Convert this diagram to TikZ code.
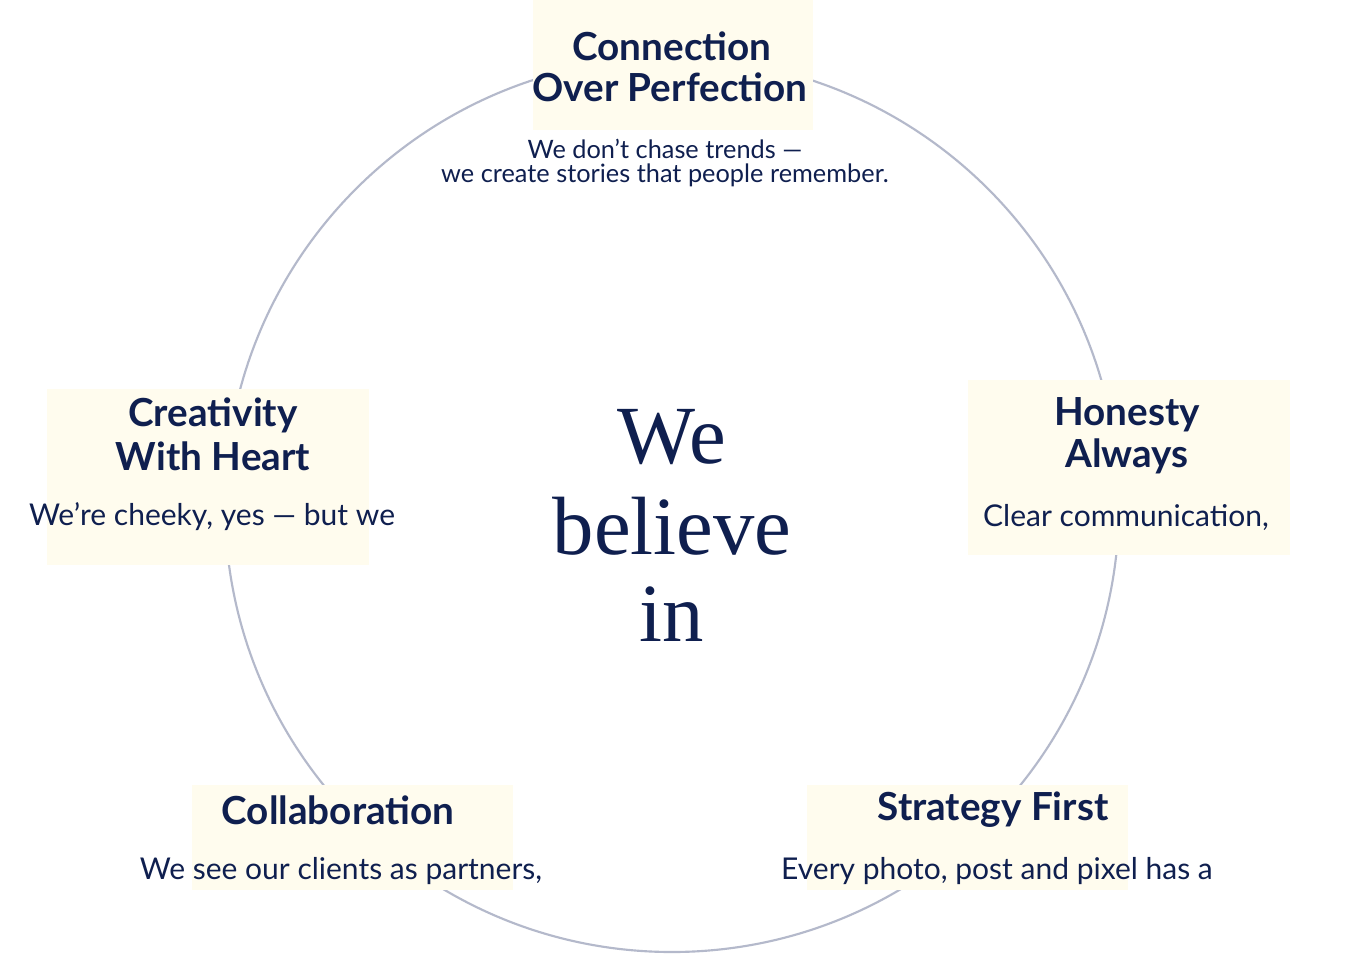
\documentclass[tikz,border=0pt]{standalone}
\usepackage{fontspec}
\setmainfont{Lato}
\newfontfamily\serifbig{Liberation Serif}
\definecolor{navy}{HTML}{0F1F4F}
\definecolor{cream}{HTML}{FFFCEE}
\definecolor{ring}{HTML}{B4B9CB}
\tikzset{
 box/.style={fill=cream,draw=none},
 ttl/.style={text=navy,font=\fontsize{29}{32}\selectfont\bfseries,inner sep=0pt},
 bdy/.style={text=navy,font=\fontsize{22.5}{25}\selectfont,inner sep=0pt},
 bdys/.style={text=navy,font=\fontsize{19}{22}\selectfont,inner sep=0pt},
 big/.style={text=navy,font=\serifbig\fontsize{62}{62}\selectfont,inner sep=0pt}
}
\begin{document}
\begin{tikzpicture}[x=0.75pt,y=-0.75pt]
\useasboundingbox[fill=white] (0,0) rectangle (1345,954);
\draw[ring,line width=1.6pt] (672,505) circle[radius=447];
\fill[box] (533,0) rectangle (813,130);
\fill[box] (47,389) rectangle (369,565);
\fill[box] (968,380) rectangle (1290,555);
\fill[box] (192,785) rectangle (513,890);
\fill[box] (807,785) rectangle (1128,890);
\node[ttl] (t1a) at (672,46) {Connection};
\node[ttl] (t1b) at (670,87) {Over Perfection};
\node[bdys] (b1a) at (665,149) {We don’t chase trends —};
\node[bdys] (b1b) at (665,175) {we create stories that people remember.};
\node[ttl] (t2a) at (213,415) {Creativity};
\node[ttl] (t2b) at (213,456) {With Heart};
\node[bdy] (b2) at (212,517) {We’re cheeky, yes — but we};
\node[ttl] (t3a) at (1127,415) {Honesty};
\node[ttl] (t3b) at (1127,456) {Always};
\node[bdy] (b3) at (1126,517) {Clear communication,};
\node[ttl] (t4) at (338,810) {Collaboration};
\node[bdy] (b4) at (341,871) {We see our clients as partners,};
\node[ttl] (t5) at (993,810) {Strategy First};
\node[bdy] (b5) at (997,871) {Every photo, post and pixel has a};
\node[big] (w1) at (672,437) {We};
\node[big] (w2) at (672,526) {believe};
\node[big] (w3) at (672,614) {in};
\end{tikzpicture}
\end{document}
